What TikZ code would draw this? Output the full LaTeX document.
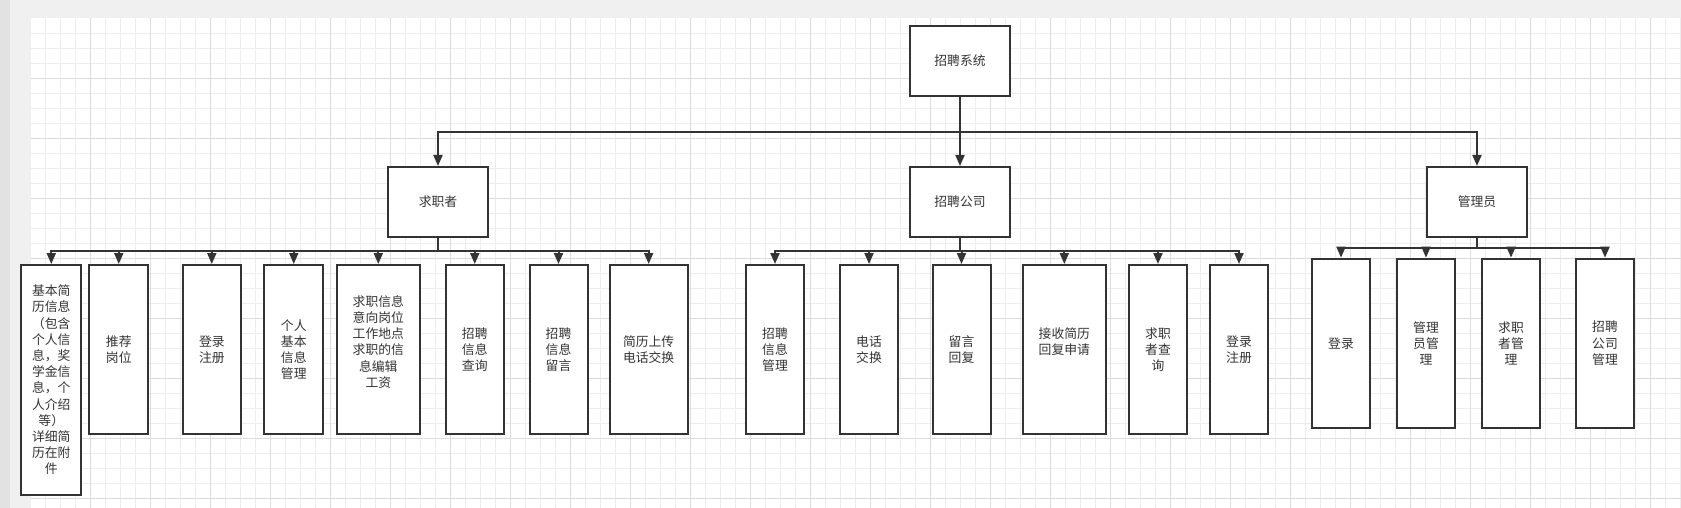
\documentclass[tikz,border=0pt]{standalone}
\usepackage{fontspec}
\setmainfont{Noto Sans CJK SC}
\usetikzlibrary{arrows.meta}
\definecolor{ln}{HTML}{333333}
\definecolor{bgc}{HTML}{F0F0F0}
\definecolor{leftc}{HTML}{E2E2E2}
\definecolor{minorc}{HTML}{EDEDED}
\definecolor{majorc}{HTML}{DCDCDC}
\begin{document}
\begin{tikzpicture}[x=1pt,y=-1pt,
  box/.style={draw=ln, line width=2pt, fill=white, inner sep=0pt, align=center, text=ln,
    font=\fontsize{12.8}{16.2}\selectfont, minimum height=169pt},
  arr/.style={draw=ln, line width=2pt, -{Triangle[width=9pt,length=11pt]}},
  minor/.style={draw=minorc, line width=0.8pt},
  major/.style={draw=majorc, line width=0.9pt}]
\useasboundingbox (0,0) rectangle (1681,508);
% background and grid
\fill[bgc] (0,0) rectangle (1681,508);
\fill[leftc] (0,0) rectangle (10,508);
\fill[white] (31,18) rectangle (1681,508);
\foreach \i in {1,...,110} {\pgfmathsetmacro\xx{30.7+15*\i}\draw[minor] (\xx,18) -- (\xx,508);}
\foreach \i in {1,...,32} {\pgfmathsetmacro\yy{18.3+15*\i}\draw[minor] (31,\yy) -- (1681,\yy);}
\foreach \i in {1,...,27} {\pgfmathsetmacro\xx{30.7+60*\i}\draw[major] (\xx,18) -- (\xx,508);}
\foreach \i in {1,...,8} {\pgfmathsetmacro\yy{18.3+60*\i}\draw[major] (31,\yy) -- (1681,\yy);}

% bus coordinates
\coordinate (b1) at (0,132);
\coordinate (b2) at (0,250.7);
\coordinate (b3) at (0,250.7);
\coordinate (b4) at (0,247.7);

% level 0 and 1
\node[box, minimum width=100pt, minimum height=70pt] (top) at (960,61) {招聘系统};
\node[box, minimum width=100pt, minimum height=70pt] (seek) at (438,202) {求职者};
\node[box, minimum width=100pt, minimum height=70pt] (comp) at (960,202) {招聘公司};
\node[box, minimum width=100pt, minimum height=70pt] (adm) at (1477,202) {管理员};

% seeker children
\node[box, minimum width=60pt, minimum height=230pt] (s1) at (51.3,380) {基本简\\历信息\\（包含\\个人信\\息，奖\\学金信\\息，个\\人介绍\\等）\\详细简\\历在附\\件};
\node[box, minimum width=59pt] (s2) at (118.75,349.5) {推荐\\岗位};
\node[box, minimum width=58.5pt] (s3) at (211.8,349.5) {登录\\注册};
\node[box, minimum width=59pt] (s4) at (293.75,349.5) {个人\\基本\\信息\\管理};
\node[box, minimum width=83.4pt] (s5) at (378.3,349.5) {求职信息\\意向岗位\\工作地点\\求职的信\\息编辑\\工资\\\mbox{}};
\node[box, minimum width=58.5pt] (s6) at (474.75,349.5) {招聘\\信息\\查询};
\node[box, minimum width=58pt] (s7) at (558.5,349.5) {招聘\\信息\\留言};
\node[box, minimum width=77.7pt] (s8) at (648.65,349.5) {简历上传\\电话交换};

% company children
\node[box, minimum width=58pt] (c1) at (775,349.5) {招聘\\信息\\管理};
\node[box, minimum width=58.5pt] (c2) at (869,349.5) {电话\\交换};
\node[box, minimum width=58pt] (c3) at (961.5,349.5) {留言\\回复};
\node[box, minimum width=83.4pt] (c4) at (1064.3,349.5) {接收简历\\回复申请\\\mbox{}};
\node[box, minimum width=58pt] (c5) at (1158,349.5) {求职\\者查\\询};
\node[box, minimum width=58pt] (c6) at (1239,349.5) {登录\\注册};

% admin children
\node[box, minimum width=58.6pt, minimum height=169.3pt] (a1) at (1341,343.3) {登录};
\node[box, minimum width=58.6pt, minimum height=169.3pt] (a2) at (1426,343.3) {管理\\员管\\理};
\node[box, minimum width=58.6pt, minimum height=169.3pt] (a3) at (1511,343.3) {求职\\者管\\理};
\node[box, minimum width=58.6pt, minimum height=169.3pt] (a4) at (1605,343.3) {招聘\\公司\\管理};

% connectors level 1
\draw[arr] (top.south) -- (comp.north);
\draw[arr] (top.south) -- (top.south |- b1) -| (seek.north);
\draw[arr] (top.south) -- (top.south |- b1) -| (adm.north);

% seeker connectors
\foreach \n in {s1,s2,s3,s4,s5,s6,s7,s8}
  \draw[arr] (seek.south) -- (seek.south |- b2) -| (\n.north);
% company connectors
\foreach \n in {c1,c2,c3,c4,c5,c6}
  \draw[arr] (comp.south) -- (comp.south |- b3) -| (\n.north);
% admin connectors
\foreach \n in {a1,a2,a3,a4}
  \draw[arr] (adm.south) -- (adm.south |- b4) -| (\n.north);
\end{tikzpicture}
\end{document}
